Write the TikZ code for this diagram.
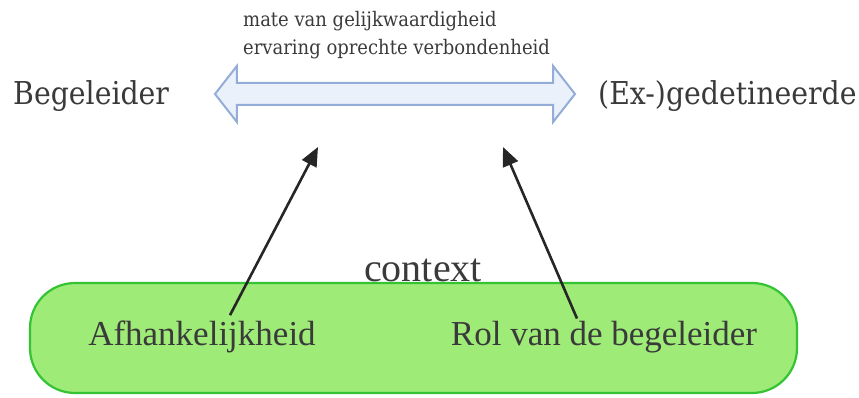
\documentclass[tikz,border=0pt]{standalone}
\usepackage{fontspec}
\setmainfont{Liberation Serif}
\newfontfamily\slabfont{DejaVu Serif Condensed}
\usetikzlibrary{shapes.arrows, arrows.meta, positioning}

\definecolor{ctxfill}{HTML}{9EEB77}
\definecolor{ctxdraw}{HTML}{33C333}
\definecolor{arrfill}{HTML}{EAF1FB}
\definecolor{arrdraw}{HTML}{93ACD8}
\definecolor{txtgray}{HTML}{3A3A3A}

\begin{document}
\begin{tikzpicture}[x=1pt, y=-1pt,
  ctx/.style={draw=ctxdraw, line width=2.2pt, fill=ctxfill, rounded corners=45pt, minimum width=767pt, minimum height=110pt},
  big/.style={font=\fontsize{35}{40}\selectfont, text=txtgray, inner sep=0pt},
  side/.style={font=\slabfont\fontsize{31.5}{36}\selectfont, text=txtgray, inner sep=0pt},
  small/.style={font=\slabfont\fontsize{20}{28}\selectfont, text=txtgray, align=left, inner sep=0pt},
  dbl/.style={double arrow, draw=arrdraw, line width=2pt, fill=arrfill, inner xsep=0pt, inner ysep=10pt, minimum height=360pt, double arrow head extend=17pt, double arrow tip angle=104},
  infl/.style={draw=black!85, line width=2.6pt, -{Triangle[length=19pt, width=16pt]}}]
	\useasboundingbox (0,0) rectangle (859,398);
	% context
	\node [ctx] (ctxbox) at (413.5,338) {};
	\node [big, font=\fontsize{40}{44}\selectfont, anchor=base] (ctx) at (423,281) {context};
	\node [big, anchor=base] (afh) at (202,345) {Afhankelijkheid};
	\node [big, anchor=base] (rol) at (604,345) {Rol van de begeleider};
	% relation
	\node [dbl] (rel) at (395,94) {};
	\node [side, anchor=base west] (beg) at (13,105) {Begeleider};
	\node [side, anchor=base west] (gedet) at (598,105) {(Ex-)gedetineerde};
	\node [small, anchor=north west] (lbl) at (243,11) {mate van gelijkwaardigheid\\ervaring oprechte verbondenheid};
	% influence
	\coordinate (t1) at (318,147);
	\coordinate (t2) at (503,147);
	\draw [infl] ([xshift=28pt, yshift=5pt]afh.north) -- (t1);
	\draw [infl] ([xshift=-27pt, yshift=2pt]rol.north) -- (t2);
\end{tikzpicture}
\end{document}
